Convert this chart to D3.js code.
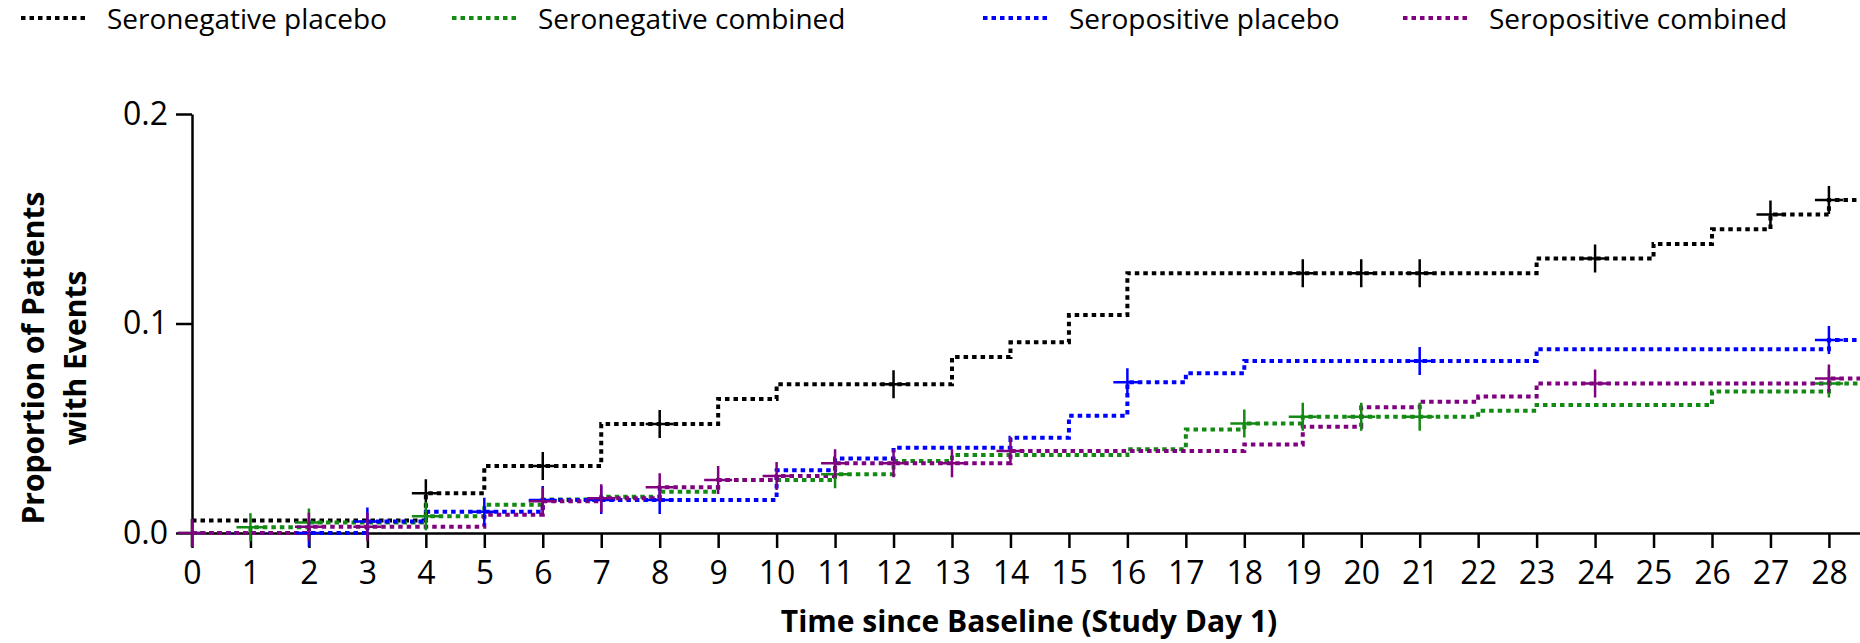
<!DOCTYPE html>
<html>
<head>
<meta charset="utf-8">
<script src="https://cdn.jsdelivr.net/npm/d3@7"></script>
<style>
  body { margin: 0; background: #fff; }
  svg { display: block; font-family: "Open Sans", sans-serif; }
</style>
</head>
<body>
<svg id="chart"></svg>
<script>
const width = 1860;
const height = 643;

// step start days and proportions, censor days per group
const negPlaceboT = [0, 4, 5, 7, 9, 10, 13, 14, 15, 16, 23, 25, 26, 27, 28];
const negPlaceboY = [0.006, 0.019, 0.032, 0.052, 0.064, 0.071, 0.084, 0.091, 0.104, 0.124, 0.131, 0.138, 0.145, 0.152, 0.159];
const negPlaceboCens = [4, 6, 8, 12, 19, 20, 21, 24, 27, 28];

const negCombinedT = [0, 1, 2, 4, 5, 6, 7, 8, 9, 11, 12, 13, 16, 17, 18, 19, 22, 23, 26, 28];
const negCombinedY = [0, 0.0027, 0.005, 0.008, 0.0135, 0.016, 0.0173, 0.0197, 0.0253, 0.028, 0.0344, 0.0372, 0.040, 0.0494, 0.0523, 0.0555, 0.0584, 0.0611, 0.0675, 0.0714];
const negCombinedCens = [0, 1, 2, 4, 11, 18, 19, 20, 21, 28];

const posPlaceboT = [0, 3, 4, 6, 10, 11, 12, 14, 15, 16, 17, 18, 23, 28];
const posPlaceboY = [0, 0.0055, 0.0102, 0.0158, 0.030, 0.0356, 0.0407, 0.0455, 0.056, 0.0719, 0.0762, 0.0821, 0.0877, 0.0921];
const posPlaceboCens = [2, 3, 5, 6, 7, 8, 16, 21, 28];

const posCombinedT = [0, 2, 5, 6, 7, 8, 9, 10, 11, 14, 18, 19, 20, 21, 22, 23, 28];
const posCombinedY = [0, 0.003, 0.0087, 0.0151, 0.0166, 0.0218, 0.0253, 0.0272, 0.0333, 0.0391, 0.0423, 0.0507, 0.060, 0.0627, 0.0651, 0.0714, 0.0738];
const posCombinedCens = [0, 2, 3, 6, 7, 8, 9, 10, 11, 12, 13, 14, 24, 28];

const xTicks = d3.range(0, 29);
const yTicks = [0, 0.1, 0.2];

const series = [
  { name: "Seronegative placebo", color: "#000000", t: negPlaceboT, y: negPlaceboY, cens: negPlaceboCens, lx: 21 },
  { name: "Seronegative combined", color: "#138a13", t: negCombinedT, y: negCombinedY, cens: negCombinedCens, lx: 452 },
  { name: "Seropositive placebo", color: "#0000ff", t: posPlaceboT, y: posPlaceboY, cens: posPlaceboCens, lx: 983 },
  { name: "Seropositive combined", color: "#800080", t: posCombinedT, y: posCombinedY, cens: posCombinedCens, lx: 1403 }
];

const svg = d3.select("#chart")
  .attr("width", width)
  .attr("height", height);

const x = d3.scaleLinear().domain([0, 28.6]).range([192, 1864]);
const y = d3.scaleLinear().domain([0, 0.2]).range([533, 114]);

// axes
const xAxis = svg.append("g")
  .attr("transform", `translate(0,${y(0)})`)
  .call(d3.axisBottom(x).tickValues(xTicks).tickFormat(d3.format("d")).tickSize(15).tickSizeOuter(0).tickPadding(13));

const yAxis = svg.append("g")
  .attr("transform", `translate(${x(0)},0)`)
  .call(d3.axisLeft(y).tickValues(yTicks).tickFormat(d3.format(".1f")).tickSize(16).tickSizeOuter(0).tickPadding(8));

[xAxis, yAxis].forEach(g => {
  g.selectAll("path, line").attr("stroke", "#000").attr("stroke-width", 2.5);
  g.selectAll("text").attr("fill", "#000").style("font-size", "32px").style("font-family", "'Open Sans', sans-serif");
});

// step lines
const line = d3.line()
  .x(d => x(d[0]))
  .y(d => y(d[1]))
  .curve(d3.curveStepAfter);

const gLines = svg.append("g");
series.forEach(s => {
  const pts = s.t.map((t, i) => [t, s.y[i]]);
  pts.push([x.domain()[1], s.y[s.y.length - 1]]);
  s.level = d => {
    const i = d3.bisectRight(s.t, d) - 1;
    return s.y[Math.max(i, 0)];
  };
  gLines.append("path")
    .datum(pts)
    .attr("fill", "none")
    .attr("stroke", s.color)
    .attr("stroke-width", 4)
    .attr("stroke-dasharray", "4.5,4")
    .attr("d", line);
});

// censor marks
series.forEach(s => {
  svg.append("g")
    .selectAll("path")
    .data(s.cens)
    .join("path")
    .attr("transform", d => `translate(${x(d)},${y(s.level(d))})`)
    .attr("d", "M-14,0H14M0,-14V14")
    .attr("stroke", s.color)
    .attr("stroke-width", 2.5)
    .attr("fill", "none");
});

// legend
const legend = svg.append("g");
series.forEach(s => {
  legend.append("line")
    .attr("x1", s.lx).attr("x2", s.lx + 68)
    .attr("y1", 18).attr("y2", 18)
    .attr("stroke", s.color)
    .attr("stroke-width", 4)
    .attr("stroke-dasharray", "4.5,4");
  legend.append("text")
    .attr("x", s.lx + 86)
    .attr("y", 29)
    .style("font-size", "28px")
    .text(s.name);
});

// axis titles
svg.append("text")
  .attr("x", 1029)
  .attr("y", 632)
  .attr("text-anchor", "middle")
  .style("font-size", "30px")
  .style("font-weight", "bold")
  .text("Time since Baseline (Study Day 1)");

const yTitle = svg.append("text")
  .attr("transform", "translate(0,358) rotate(-90)")
  .attr("text-anchor", "middle")
  .style("font-size", "30px")
  .style("font-weight", "bold");
yTitle.append("tspan").attr("x", 0).attr("y", 44).text("Proportion of Patients");
yTitle.append("tspan").attr("x", 0).attr("y", 86).text("with Events");
</script>
</body>
</html>
